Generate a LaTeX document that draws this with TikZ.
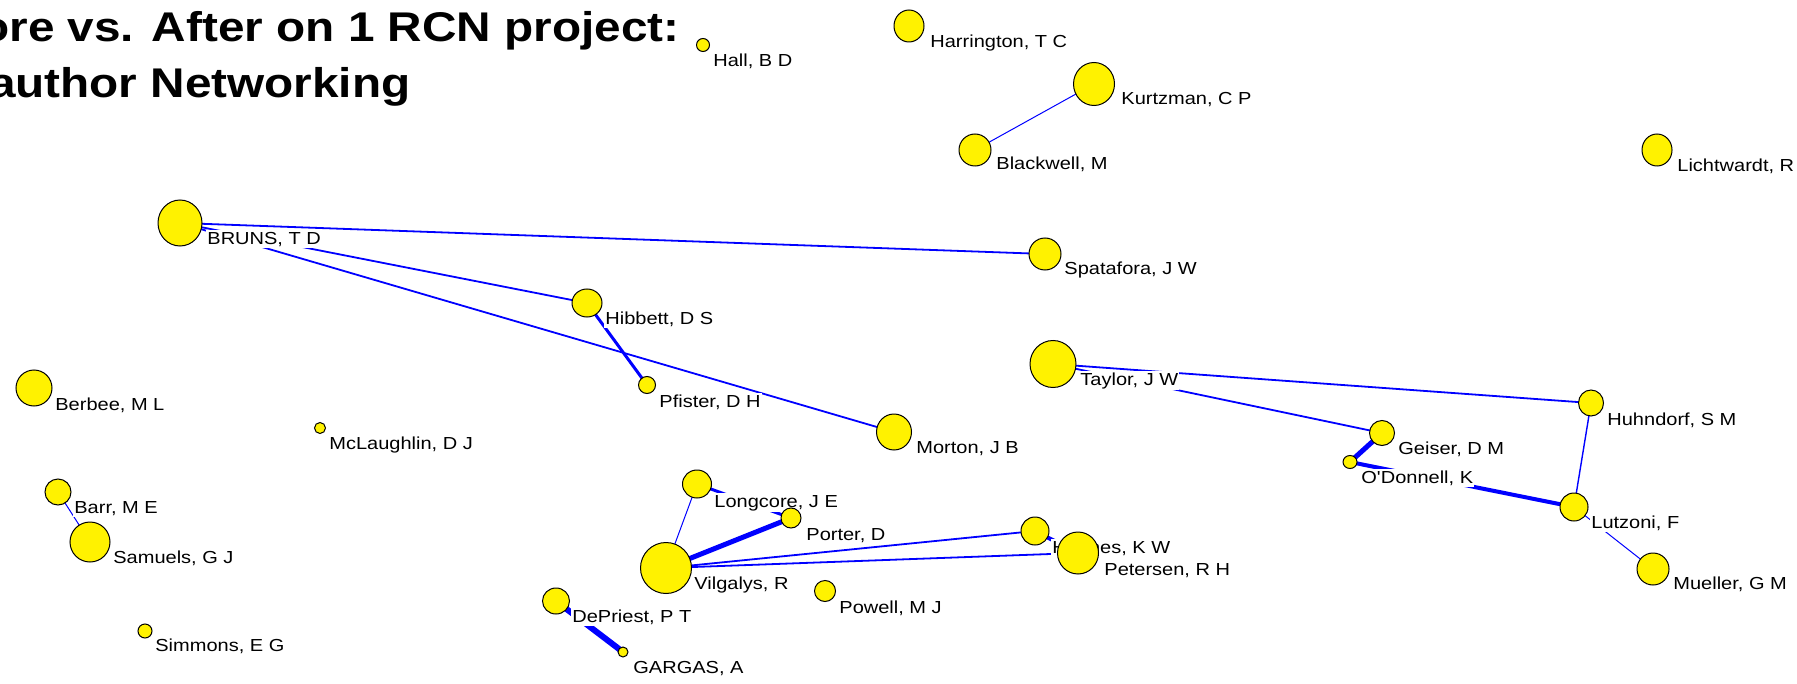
\documentclass[tikz,border=0pt]{standalone}
\usepackage{fontspec}
\setmainfont{Liberation Sans}
\newfontfamily\labfont[FakeStretch=1.15]{Liberation Sans}
\newfontfamily\ttlfont[FakeStretch=1.15]{Liberation Sans}
\usetikzlibrary{shapes.geometric,backgrounds}
\begin{document}
\begin{tikzpicture}[x=0.5pt,y=-0.5pt,
  au/.style={ellipse, draw=black, line width=0.5pt, fill=yellow, inner sep=0pt},
  sz/.style 2 args={minimum width=#1pt, minimum height=#2pt},
  lab/.style={anchor=base west, fill=white, inner xsep=0.5pt, inner ysep=0.8pt, font=\labfont\fontsize{8.7}{10}\selectfont},
  ew/.style={draw=blue, line width=#1},
  ttl/.style={anchor=base east, inner sep=0pt, font=\ttlfont\fontsize{20.75}{25}\selectfont\bfseries}]
\useasboundingbox (0,0) rectangle (1797,684);
% title
\node[ttl] (t1) at (680,42) {ore vs. After on 1 RCN project:};
\node[ttl] (t2) at (411,97.5) {author Networking};
% authors
\node[au, sz={6.5}{6.5}] (hall) at (703,45) {};
\node[lab] (hallL) at (712,67) {Hall, B D};
\node[au, sz={15}{16}] (harr) at (909,26) {};
\node[lab] (harrL) at (929,48) {Harrington, T C};
\node[au, sz={20.5}{21.5}] (kurtz) at (1094,84) {};
\node[lab] (kurtzL) at (1120,105) {Kurtzman, C P};
\node[au, sz={16}{16}] (black) at (975,150) {};
\node[lab] (blackL) at (995,170) {Blackwell, M};
\node[au, sz={15}{16}] (licht) at (1657,150) {};
\node[lab] (lichtL) at (1676,172) {Lichtwardt, R};
\node[au, sz={22}{23}] (bruns) at (180,223) {};
\node[lab] (brunsL) at (206,244) {BRUNS, T D};
\node[au, sz={16}{16}] (spata) at (1045,254) {};
\node[lab] (spataL) at (1063,274) {Spatafora, J W};
\node[au, sz={15}{14}] (hibb) at (587,303) {};
\node[lab] (hibbL) at (604,324) {Hibbett, D S};
\node[au, sz={23}{23.5}] (taylor) at (1053,364) {};
\node[lab] (taylorL) at (1079,385) {Taylor, J W};
\node[au, sz={8.5}{8.5}] (pfis) at (647,385) {};
\node[lab] (pfisL) at (658,407) {Pfister, D H};
\node[au, sz={18}{18}] (berb) at (34,388) {};
\node[lab] (berbL) at (54,410) {Berbee, M L};
\node[au, sz={12.5}{13}] (huhn) at (1591,403) {};
\node[lab] (huhnL) at (1606,425) {Huhndorf, S M};
\node[au, sz={5.5}{5.5}] (mclau) at (320,428) {};
\node[lab] (mclauL) at (328,449) {McLaughlin, D J};
\node[au, sz={17.5}{18}] (morton) at (894,432) {};
\node[lab] (mortonL) at (915,453) {Morton, J B};
\node[au, sz={12.5}{12.5}] (geiser) at (1382,433) {};
\node[lab] (geiserL) at (1397,454) {Geiser, D M};
\node[au, sz={7}{6.5}] (odon) at (1350,462) {};
\node[lab] (odonL) at (1360,483) {O'Donnell, K};
\node[au, sz={13}{13}] (barr) at (58,492) {};
\node[lab] (barrL) at (73,513) {Barr, M E};
\node[au, sz={14.5}{14}] (long) at (697,484) {};
\node[lab] (longL) at (713,507) {Longcore, J E};
\node[au, sz={14}{14}] (lutz) at (1574,507) {};
\node[lab] (lutzL) at (1590,528) {Lutzoni, F};
\node[au, sz={10}{10}] (porter) at (791,518) {};
\node[lab] (porterL) at (805,540) {Porter, D};
\node[au, sz={14}{14}] (hughes) at (1035,531) {};
\node[lab] (hughesL) at (1051,553) {Hughes, K W};
\node[au, sz={20}{20}] (samu) at (90,542) {};
\node[lab] (samuL) at (112,563) {Samuels, G J};
\node[au, sz={20.5}{21}] (peter) at (1078,553) {};
\node[lab] (peterL) at (1103,575) {Petersen, R H};
\node[au, sz={25.5}{25.5}] (vilg) at (666,568) {};
\node[lab] (vilgL) at (693,589) {Vilgalys, R};
\node[au, sz={16}{16}] (muel) at (1653,569) {};
\node[lab] (muelL) at (1672,589) {Mueller, G M};
\node[au, sz={10.5}{10.5}] (powell) at (825,591) {};
\node[lab] (powellL) at (838,613) {Powell, M J};
\node[au, sz={13.5}{13}] (depr) at (556,601) {};
\node[lab] (deprL) at (571,622) {DePriest, P T};
\node[au, sz={7}{7}] (simm) at (145,631) {};
\node[lab] (simmL) at (154,651) {Simmons, E G};
\node[au, sz={5}{5}] (garg) at (623,652) {};
\node[lab] (gargL) at (632,673) {GARGAS, A};
% connectors
\begin{pgfonlayer}{background}
\fill[white] (0,0) rectangle (1797,684);
\draw[ew=0.5pt] (kurtz.center) -- (black.center);
\draw[ew=0.9pt] (bruns.center) -- (spata.center);
\draw[ew=0.9pt] (bruns.center) -- (hibb.center);
\draw[ew=0.9pt] (bruns.center) -- (morton.center);
\draw[ew=1.5pt] (hibb.center) -- (pfis.center);
\draw[ew=0.5pt] (barr.center) -- (samu.center);
\draw[ew=0.5pt] (long.center) -- (vilg.center);
\draw[ew=1.5pt] (long.center) -- (porter.center);
\draw[ew=2.5pt] (vilg.center) -- (porter.center);
\draw[ew=0.9pt] (vilg.center) -- (hughes.center);
\draw[ew=0.9pt] (vilg.center) -- (peter.center);
\draw[ew=2pt] (hughes.center) -- (peter.center);
\draw[ew=3pt] (depr.center) -- (garg.center);
\draw[ew=0.9pt] (taylor.center) -- (huhn.center);
\draw[ew=0.9pt] (taylor.center) -- (geiser.center);
\draw[ew=2.5pt] (geiser.center) -- (odon.center);
\draw[ew=2pt] (odon.center) -- (lutz.center);
\draw[ew=0.7pt] (huhn.center) -- (lutz.center);
\draw[ew=0.5pt] (lutz.center) -- (muel.center);
\end{pgfonlayer}
\end{tikzpicture}
\end{document}
